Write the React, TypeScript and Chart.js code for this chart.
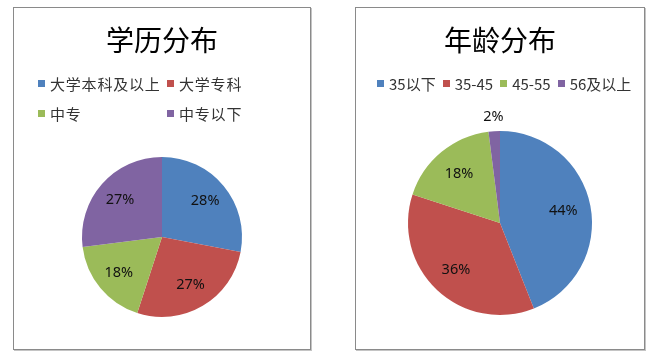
import React, { useEffect, useRef } from "react";
import { Chart, registerables } from "chart.js";

Chart.register(...registerables);

const eduTitle = "学历分布";
const eduLabels = ["大学本科及以上", "大学专科", "中专", "中专以下"];
const eduValues = [28, 27, 18, 27];

const ageTitle = "年龄分布";
const ageLabels = ["35以下", "35-45", "45-55", "56及以上"];
const ageValues = [44, 36, 18, 2];

const sliceColors = ["#4F81BD", "#C0504D", "#9BBB59", "#8064A2"];

const CJK = '"Noto Sans CJK SC", "Noto Sans", sans-serif';

const pctLabelPlugin = {
  id: "pctLabels",
  afterDatasetsDraw(chart: any) {
    const ctx = chart.ctx;
    const meta = chart.getDatasetMeta(0);
    const values = chart.data.datasets[0].data as number[];
    ctx.save();
    ctx.font = '14.5px "Noto Sans", sans-serif';
    ctx.fillStyle = "#111";
    ctx.textAlign = "center";
    ctx.textBaseline = "middle";
    meta.data.forEach((arc: any, i: number) => {
      const p = arc.getProps(["x", "y", "startAngle", "endAngle", "outerRadius"], true);
      const mid = (p.startAngle + p.endAngle) / 2;
      const v = values[i];
      const d = v < 5 ? p.outerRadius + 14 : p.outerRadius * 0.7;
      ctx.fillText(v + "%", p.x + Math.cos(mid) * d, p.y + Math.sin(mid) * d);
    });
    ctx.restore();
  },
};

type PanelProps = {
  left: number;
  width: number;
  title: string;
  labels: string[];
  values: number[];
  pad: { left: number; right: number; top: number; bottom: number };
  gridLegend: boolean;
};

function PiePanel({ left, width, title, labels, values, pad, gridLegend }: PanelProps) {
  const ref = useRef<HTMLCanvasElement | null>(null);
  const innerW = width - 2;
  const innerH = 341;

  useEffect(() => {
    if (!ref.current) return;
    const chart = new Chart(ref.current, {
      type: "pie",
      data: {
        labels,
        datasets: [
          {
            data: values,
            backgroundColor: sliceColors,
            borderWidth: 0,
          },
        ],
      },
      options: {
        animation: false,
        responsive: false,
        devicePixelRatio: 1,
        layout: { padding: pad },
        plugins: {
          legend: { display: false },
          tooltip: { enabled: false },
          title: { display: false },
        },
      },
      plugins: [pctLabelPlugin],
    });
    return () => chart.destroy();
  }, []);

  const legendItem = (lab: string, i: number, extra: React.CSSProperties) => (
    <div key={lab} style={{ display: "flex", alignItems: "center", ...extra }}>
      <span
        style={{
          display: "inline-block",
          width: 7,
          height: 7,
          background: sliceColors[i],
          marginRight: 5,
        }}
      />
      <span>{lab}</span>
    </div>
  );

  return (
    <div
      style={{
        position: "absolute",
        left,
        top: 7,
        width,
        height: 343,
        boxSizing: "border-box",
        border: "1px solid #8a8a8a",
        boxShadow: "1px 1px 0 #c4c4c4",
        background: "#fff",
      }}
    >
      <canvas
        ref={ref}
        width={innerW}
        height={innerH}
        style={{ position: "absolute", left: 0, top: 0, width: innerW, height: innerH }}
      />
      <div
        style={{
          position: "absolute",
          left: 0,
          right: 0,
          top: 13,
          height: 36,
          lineHeight: "36px",
          textAlign: "center",
          fontFamily: CJK,
          fontSize: 28,
          color: "#000",
        }}
      >
        {title}
      </div>
      {gridLegend ? (
        <div
          style={{
            position: "absolute",
            left: 24,
            top: 61,
            display: "grid",
            gridTemplateColumns: "129px 129px",
            gridAutoRows: "29.5px",
            fontFamily: CJK,
            fontSize: 15,
            letterSpacing: 0.8,
            color: "#333",
          }}
        >
          {labels.map((lab, i) => legendItem(lab, i, {}))}
        </div>
      ) : (
        <div
          style={{
            position: "absolute",
            left: 21,
            top: 61,
            height: 28,
            display: "flex",
            alignItems: "center",
            fontFamily: CJK,
            fontSize: 15,
            color: "#333",
          }}
        >
          {labels.map((lab, i) => legendItem(lab, i, { marginRight: 7 }))}
        </div>
      )}
    </div>
  );
}

export default function App() {
  return (
    <div style={{ position: "fixed", left: 0, top: 0, width: 658, height: 363, background: "#fff" }}>
      <PiePanel
        left={13}
        width={298}
        title={eduTitle}
        labels={eduLabels}
        values={eduValues}
        pad={{ left: 68, right: 68, top: 149, bottom: 32 }}
        gridLegend={true}
      />
      <PiePanel
        left={355}
        width={290}
        title={ageTitle}
        labels={ageLabels}
        values={ageValues}
        pad={{ left: 52, right: 52, top: 123, bottom: 34 }}
        gridLegend={false}
      />
    </div>
  );
}
